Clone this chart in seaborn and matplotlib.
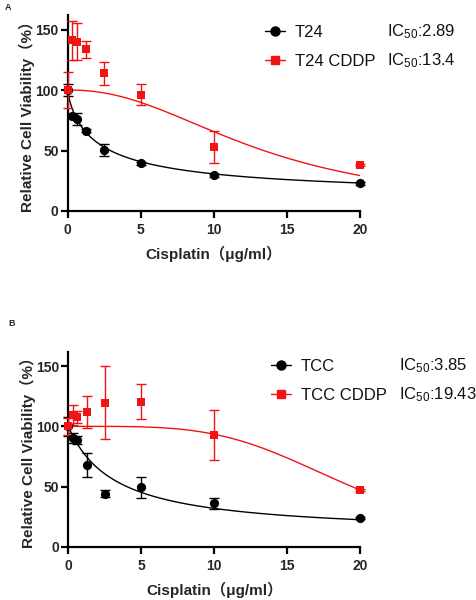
import numpy as np
import pandas as pd
import matplotlib
matplotlib.use("Agg")
import matplotlib.pyplot as plt
import seaborn as sns
from matplotlib.lines import Line2D

sns.set_theme(style="ticks")
plt.rcParams['font.family'] = ['Liberation Sans', 'Noto Sans CJK SC', 'DejaVu Sans']
plt.rcParams['mathtext.fontset'] = 'custom'
plt.rcParams['mathtext.rm'] = 'Liberation Sans'
plt.rcParams['mathtext.it'] = 'Liberation Sans:italic'
plt.rcParams['mathtext.bf'] = 'Liberation Sans:bold'

# ---- data ----
dose = [0, 0.3125, 0.625, 1.25, 2.5, 5, 10, 20]

# Panel A
t24_mean = [100, 78.6, 75.8, 66.5, 50.3, 39.6, 29.4, 22.8]
t24_err = [5, 1.5, 5, 1.5, 4.7, 1.2, 1.2, 1.2]
t24c_mean = [100, 141, 140, 133.8, 114, 96.2, 53, 37.9]
t24c_err = [14.7, 16, 15, 7, 9.5, 8.5, 13, 0.8]
# 4PL fit parameters: top, bottom, ec, hill
t24_fit = (100, 10, 2.2, 0.8)
t24c_fit = (100, 0, 13.4, 2.2)
labels_a = ["T24", "T24 CDDP"]
ic50_a = ["2.89", "13.4"]

# Panel B
tcc_mean = [100, 90.3, 88.7, 67.6, 44, 49.3, 36.1, 24]
tcc_err = [8, 4, 3, 10, 3, 8.5, 4.5, 1]
tccc_mean = [100, 109.5, 107.6, 112, 119.6, 120.4, 93, 47]
tccc_err = [7, 8, 5, 13.4, 30.5, 14.6, 20.7, 1]
tcc_fit = (100, 10, 3.2, 1.0)
tccc_fit = (100, 0, 19.43, 4.0)
labels_b = ["TCC", "TCC CDDP"]
ic50_b = ["3.85", "19.43"]

xticks = [0, 5, 10, 15, 20]
yticks = [0, 50, 100, 150]

BLACK = "#000000"
RED = "#f01414"

W, H = 476, 600
fig = plt.figure(figsize=(W / 100, H / 100), dpi=100)


def fourpl(x, p):
    top, bottom, ec, h = p
    return bottom + (top - bottom) / (1 + (x / ec) ** h)


def panel(rect, means, errs, fits, labels, leg_px):
    ax = fig.add_axes(rect)
    xs = np.linspace(0, 20, 400)
    colors = [BLACK, RED]
    markers = ["o", "s"]
    msizes = [44, 34]
    for m, e, f, c, mk, ms in zip(means, errs, fits, colors, markers, msizes):
        curve = pd.DataFrame({"x": xs, "y": fourpl(xs, f)})
        sns.lineplot(data=curve, x="x", y="y", color=c, lw=1.0, ax=ax, zorder=2)
        ax.errorbar(dose, m, yerr=e, fmt="none", ecolor=c, elinewidth=1.0,
                    capsize=3.5, capthick=1.0, zorder=3, clip_on=False)
        pts = pd.DataFrame({"x": dose, "y": m})
        sns.scatterplot(data=pts, x="x", y="y", color=c, marker=mk, s=ms,
                        edgecolor=c, linewidth=0, ax=ax, zorder=4, clip_on=False)
    ax.set_xlim(0, 20)
    ax.set_ylim(0, 162)
    ax.set_xticks(xticks)
    ax.set_yticks(yticks)
    for s in ["top", "right"]:
        ax.spines[s].set_visible(False)
    for s in ["left", "bottom"]:
        ax.spines[s].set_linewidth(1.6)
        ax.spines[s].set_color("black")
    ax.tick_params(axis="both", width=1.6, length=5, color="black",
                   labelsize=10)
    ax.tick_params(axis="x", pad=4)
    ax.tick_params(axis="y", pad=1.5)
    for t in ax.get_xticklabels() + ax.get_yticklabels():
        t.set_fontweight("bold")
    ax.set_xlabel("Cisplatin（μg/ml）", fontsize=11, fontweight="bold", labelpad=6)
    ax.set_ylabel("Relative Cell Viability（%）", fontsize=11, fontweight="bold", labelpad=0)
    handles = [Line2D([0], [0], color=BLACK, lw=1.0, marker="o", markersize=6.5),
               Line2D([0], [0], color=RED, lw=1.0, marker="s", markersize=5.5)]
    lx, ly = leg_px
    leg = ax.legend(handles, labels, loc="upper left", frameon=False,
                    bbox_to_anchor=(lx / W, 1 - ly / H), bbox_transform=fig.transFigure,
                    fontsize=12, handlelength=1.2, handletextpad=0.6,
                    labelspacing=0.84, borderpad=0, borderaxespad=0)
    for t in leg.get_texts():
        t.set_color("#111111")
    return ax


axA = panel([67.7 / W, 1 - 211 / H, (360 - 67.7) / W, (211 - 15) / H],
            [t24_mean, t24c_mean], [t24_err, t24c_err], [t24_fit, t24c_fit],
            labels_a, (265, 25))
axB = panel([68.3 / W, 1 - 546.7 / H, (360 - 68.3) / W, (546.7 - 351.7) / H],
            [tcc_mean, tccc_mean], [tcc_err, tccc_err], [tcc_fit, tccc_fit],
            labels_b, (271, 359))

for ys, vals, xpos in [((36, 65), ic50_a, 387), ((370, 399), ic50_b, 399)]:
    for y, v in zip(ys, vals):
        fig.text(xpos / W, 1 - y / H, r"IC$_{\mathrm{50}}$:" + v, fontsize=12,
                 va="baseline", ha="left", color="#111111")

fig.text(5 / W, 1 - 8 / H, "A", fontsize=6.5, fontweight="bold", va="center")
fig.text(8 / W, 1 - 324 / H, "B", fontsize=6.5, fontweight="bold", va="center")

fig.savefig("out.png", dpi=100)
